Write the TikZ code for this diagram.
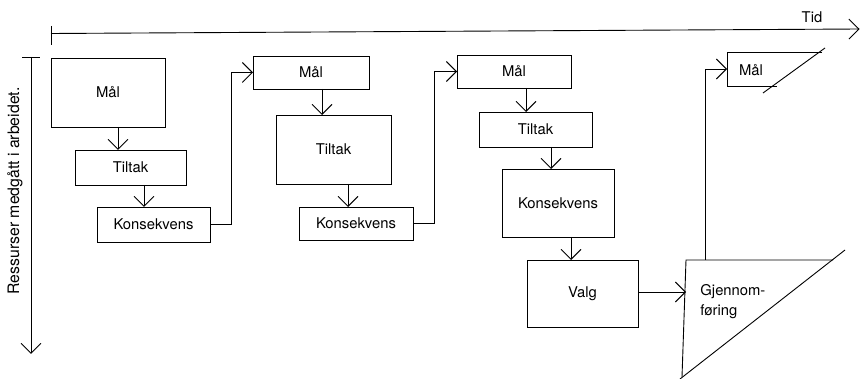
\documentclass[tikz,border=0pt]{standalone}
\usepackage{fontspec}
\setmainfont{TeX Gyre Heros}
\usetikzlibrary{arrows.meta}
\begin{document}
\begin{tikzpicture}[x=1pt,y=-1pt,
  line width=0.9pt,
  arr/.style={-{Straight Barb[length=10pt,width=20pt,line width=0.9pt]}},
  box/.style={draw, inner sep=0pt, outer sep=0pt, font=\fontsize{14.8}{20}\selectfont},
  lbl/.style={inner sep=0pt, font=\fontsize{14.8}{20}\selectfont}]
\useasboundingbox (0,0) rectangle (860,379);

% axes
\coordinate (tax0) at (51,33.5);
\coordinate (tax1) at (859.5,29);
\draw[arr] (tax0) -- (tax1);
\coordinate (ttk0) at (51,26);
\coordinate (ttk1) at (51,45);
\draw (ttk0) -- (ttk1);
\node[lbl] (tid) at (812,17) {Tid};

\coordinate (rax0) at (31,57);
\coordinate (rax1) at (31,354);
\draw[arr] (rax0) -- (rax1);
\coordinate (rtk0) at (22,57);
\coordinate (rtk1) at (40,57);
\draw (rtk0) -- (rtk1);
\node[lbl, rotate=90, font=\fontsize{15.8}{20}\selectfont] (res) at (15,191) {Ressurser medgått i arbeidet.};

% column 1
\node[box, minimum width=114, minimum height=69] (m1) at (108,92.5) {Mål};
\node[box, minimum width=111, minimum height=35] (t1) at (130.5,167.5) {Tiltak};
\node[box, minimum width=113, minimum height=35] (k1) at (153.5,224.5) {Konsekvens};
% column 2
\node[box, minimum width=116, minimum height=33] (m2) at (311,72.5) {Mål};
\node[box, minimum width=115, minimum height=69] (t2) at (333.5,149.5) {Tiltak};
\node[box, minimum width=114, minimum height=33] (k2) at (356,223.5) {Konsekvens};
% column 3
\node[box, minimum width=114, minimum height=33] (m3) at (514,71.5) {Mål};
\node[box, minimum width=113, minimum height=35] (t3) at (535.5,129.5) {Tiltak};
\node[box, minimum width=112, minimum height=68] (k3) at (558,203) {Konsekvens};
\node[box, minimum width=111, minimum height=67] (v) at (582.5,293.5) {Valg};

% arrow x positions
\coordinate (a1) at (118,0);
\coordinate (a2) at (144,0);
\coordinate (a3) at (322,0);
\coordinate (a4) at (348,0);
\coordinate (a5) at (526,0);
\coordinate (a6) at (551,0);
\coordinate (a7) at (571,0);
\draw[arr] (m1.south -| a1) -- (t1.north -| a1);
\draw[arr] (t1.south -| a2) -- (k1.north -| a2);
\draw[arr] (m2.south -| a3) -- (t2.north -| a3);
\draw[arr] (t2.south -| a4) -- (k2.north -| a4);
\draw[arr] (m3.south -| a5) -- (t3.north -| a5);
\draw[arr] (t3.south -| a6) -- (k3.north -| a6);
\draw[arr] (k3.south -| a7) -- (v.north -| a7);

% links between columns
\draw[arr] (k1.east) -- ++(21,0) |- (m2.west);
\draw[arr] (k2.east) -- ++(21,0) |- (m3.west);

% Gjennomfoering
\coordinate (gtl) at (686,260);
\coordinate (gtr) at (833,260);
\coordinate (gbl) at (682,377);
\coordinate (gd0) at (845,250);
\coordinate (gd1) at (680,379);
\draw (gtr) -- (gtl) -- (gbl);
\draw (gd0) -- (gd1);
\node[lbl, anchor=west, align=left] (gtext) at (700,302) {Gjennom-\\føring};
\coordinate (gin) at (686,292);
\draw[arr] (v.east |- gin) -- (gin);

% Maal 4
\coordinate (m4a) at (822,52);
\coordinate (m4b) at (727,52);
\coordinate (m4c) at (727,86);
\coordinate (m4d) at (777,86);
\coordinate (m4e) at (825,48);
\coordinate (m4f) at (763,93);
\draw (m4a) -- (m4b) -- (m4c) -- (m4d);
\draw (m4e) -- (m4f);
\node[lbl] (m4t) at (751,70) {Mål};
\coordinate (gtop) at (705,260);
\coordinate (m4w) at (727,69);
\draw[arr] (gtop) |- (m4w);
\end{tikzpicture}
\end{document}
